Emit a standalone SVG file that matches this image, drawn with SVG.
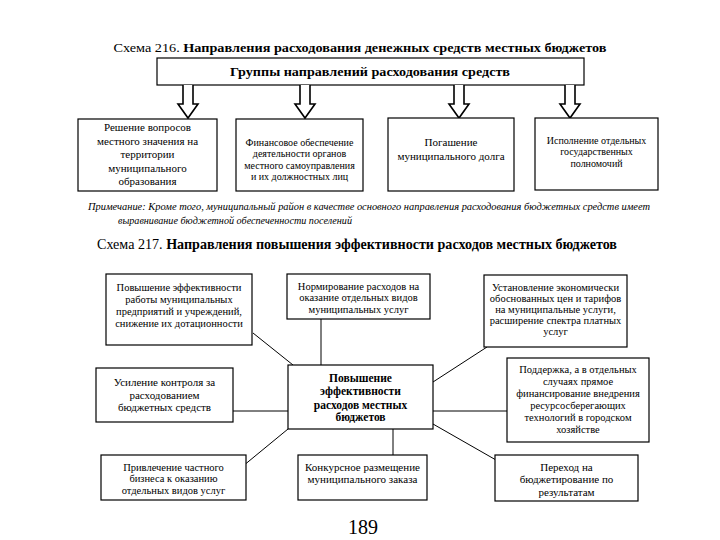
<svg xmlns="http://www.w3.org/2000/svg" width="720" height="540" viewBox="0 0 720 540" font-family="'Liberation Serif', 'Times New Roman', serif">
<style>
text{font-family:"Liberation Serif","Times New Roman",serif;fill:#000;text-anchor:middle}
.box{fill:#fff;stroke:#000;stroke-width:1.2}
.b{font-weight:bold;font-family:"Liberation Serif","Times New Roman",serif}
.t11{font-size:11px;font-family:"Liberation Serif","Times New Roman",serif}
.t10{font-size:10px;font-family:"Liberation Serif","Times New Roman",serif}
.t105{font-size:10.5px;font-family:"Liberation Serif","Times New Roman",serif}
.ln{stroke:#000;stroke-width:1;fill:none}
.arr{fill:#fff;stroke:#000;stroke-width:1.6;stroke-linejoin:miter}
.note{font-size:11px;font-style:italic;text-anchor:start;font-family:"Liberation Serif","Times New Roman",serif}
</style>
<rect width="720" height="540" fill="#fff"/>

<text x="360" y="52" font-size="13.5" textLength="493" lengthAdjust="spacingAndGlyphs">Схема 216. <tspan class="b">Направления расходования денежных средств местных бюджетов</tspan></text>

<g id="groups">
<rect class="box" x="157" y="58" width="427" height="27" stroke-width="1.4"/>
<text class="b" x="370" y="76" font-size="13.5" textLength="280" lengthAdjust="spacingAndGlyphs">Группы направлений расходования средств</text>
</g>

<g id="arrows216">
<path class="arr" d="M183,85 V104 H178 L188,118 L198,104 H193 V85"/>
<path class="arr" d="M300,85 V104 H295 L305,118 L315,104 H310 V85"/>
<path class="arr" d="M454,85 V104 H449 L459,118 L469,104 H464 V85"/>
<path class="arr" d="M565,85 V104 H560 L570,118 L580,104 H575 V85"/>
</g>

<g id="n216_1">
<rect class="box" x="78" y="119" width="139" height="72"/>
<text class="t11" x="147.5" y="131">Решение вопросов</text>
<text class="t11" x="147.5" y="144.5">местного значения на</text>
<text class="t11" x="147.5" y="158">территории</text>
<text class="t11" x="147.5" y="171.5">муниципального</text>
<text class="t11" x="147.5" y="185">образования</text>
</g>
<g id="n216_2">
<rect class="box" x="236" y="119" width="127" height="72"/>
<text class="t10" x="299.5" y="145.5">Финансовое обеспечение</text>
<text class="t10" x="299.5" y="157">деятельности органов</text>
<text class="t10" x="299.5" y="168.5">местного самоуправления</text>
<text class="t10" x="299.5" y="180">и их должностных лиц</text>
</g>
<g id="n216_3">
<rect class="box" x="388" y="118" width="126" height="73"/>
<text class="t11" x="451" y="146">Погашение</text>
<text class="t11" x="451" y="160">муниципального долга</text>
</g>
<g id="n216_4">
<rect class="box" x="535" y="118" width="123" height="72"/>
<text class="t10" x="596.5" y="143.5">Исполнение отдельных</text>
<text class="t10" x="596.5" y="155">государственных</text>
<text class="t10" x="596.5" y="166.5">полномочий</text>
</g>

<text class="note" x="88" y="210" textLength="562" lengthAdjust="spacingAndGlyphs">Примечание: Кроме того, муниципальный район в качестве основного направления расходования бюджетных средств имеет</text>
<text class="note" x="118" y="224" textLength="234" lengthAdjust="spacingAndGlyphs">выравнивание бюджетной обеспеченности поселений</text>

<text x="357" y="249" font-size="14" textLength="520" lengthAdjust="spacingAndGlyphs">Схема 217. <tspan class="b">Направления повышения эффективности расходов местных бюджетов</tspan></text>

<g id="connectors">
<line class="ln" x1="253" y1="333" x2="293" y2="365"/>
<line class="ln" x1="321" y1="319" x2="321" y2="365"/>
<line class="ln" x1="487" y1="347" x2="433" y2="382"/>
<line class="ln" x1="233" y1="411" x2="288" y2="411"/>
<line class="ln" x1="433" y1="411" x2="507" y2="411"/>
<line class="ln" x1="288" y1="429" x2="243" y2="466"/>
<line class="ln" x1="393" y1="429" x2="393" y2="455"/>
<line class="ln" x1="433" y1="424" x2="496" y2="460"/>
</g>

<g id="n217_1">
<rect class="box" x="106" y="274" width="146" height="71"/>
<text class="t105" x="179" y="290.5">Повышение эффективности</text>
<text class="t105" x="179" y="302.5">работы муниципальных</text>
<text class="t105" x="179" y="314.5">предприятий и учреждений,</text>
<text class="t105" x="179" y="326.5">снижение их дотационности</text>
</g>
<g id="n217_2">
<rect class="box" x="287" y="274" width="143" height="45"/>
<text class="t105" x="358.5" y="289.5">Нормирование расходов на</text>
<text class="t105" x="358.5" y="301">оказание отдельных видов</text>
<text class="t105" x="358.5" y="312.5">муниципальных услуг</text>
</g>
<g id="n217_3">
<rect class="box" x="484" y="275" width="143" height="72"/>
<text class="t105" x="555.5" y="290.5">Установление экономически</text>
<text class="t105" x="555.5" y="301.5">обоснованных цен и тарифов</text>
<text class="t105" x="555.5" y="312.5">на муниципальные услуги,</text>
<text class="t105" x="555.5" y="323.5">расширение спектра платных</text>
<text class="t105" x="555.5" y="335">услуг</text>
</g>
<g id="n217_center">
<rect class="box" x="288" y="365" width="145" height="64"/>
<text class="b" font-size="11.5" x="360.5" y="382">Повышение</text>
<text class="b" font-size="11.5" x="360.5" y="395">эффективности</text>
<text class="b" font-size="11.5" x="360.5" y="408.5">расходов местных</text>
<text class="b" font-size="11.5" x="360.5" y="421">бюджетов</text>
</g>
<g id="n217_4">
<rect class="box" x="96" y="368" width="137" height="54"/>
<text class="t11" x="164.5" y="386">Усиление контроля за</text>
<text class="t11" x="164.5" y="398.5">расходованием</text>
<text class="t11" x="164.5" y="411">бюджетных средств</text>
</g>
<g id="n217_5">
<rect class="box" x="507" y="358" width="142" height="84"/>
<text class="t105" x="578" y="372.5">Поддержка, а в отдельных</text>
<text class="t105" x="578" y="384.5">случаях прямое</text>
<text class="t105" x="578" y="396.5">финансирование внедрения</text>
<text class="t105" x="578" y="408.5">ресурсосберегающих</text>
<text class="t105" x="578" y="420.5">технологий в городском</text>
<text class="t105" x="578" y="432.5">хозяйстве</text>
</g>
<g id="n217_6">
<rect class="box" x="101" y="455" width="145" height="45"/>
<text class="t105" x="173.5" y="470.5">Привлечение частного</text>
<text class="t105" x="173.5" y="482">бизнеса к оказанию</text>
<text class="t105" x="173.5" y="493.5">отдельных видов услуг</text>
</g>
<g id="n217_7">
<rect class="box" x="298" y="455" width="129" height="45"/>
<text class="t11" x="362.5" y="471">Конкурсное размещение</text>
<text class="t11" x="362.5" y="483">муниципального заказа</text>
</g>
<g id="n217_8">
<rect class="box" x="495" y="455" width="143" height="46"/>
<text class="t11" x="566.5" y="471">Переход на</text>
<text class="t11" x="566.5" y="483">бюджетирование по</text>
<text class="t11" x="566.5" y="496">результатам</text>
</g>

<text x="363" y="534" font-size="20">189</text>
</svg>
